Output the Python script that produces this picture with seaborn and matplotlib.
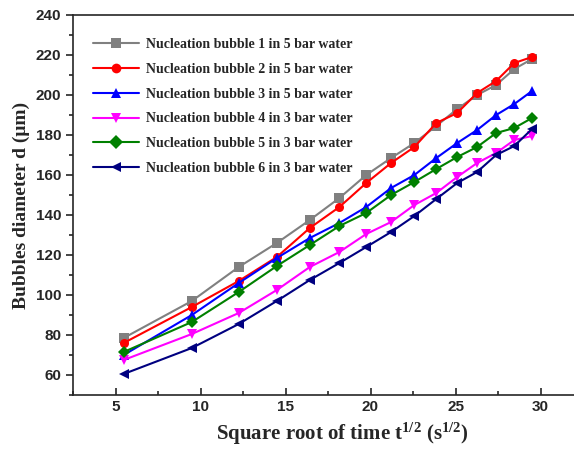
import matplotlib
matplotlib.use("Agg")
import matplotlib.pyplot as plt
import seaborn as sns
import pandas as pd
from matplotlib.ticker import MultipleLocator

sqrt_time = [5.48, 9.49, 12.25, 14.49, 16.43, 18.17, 19.75, 21.21, 22.58, 23.87, 25.10, 26.27, 27.39, 28.46, 29.50]

bubble1 = [78.5, 97, 114, 126, 137.5, 148.5, 160, 168.5, 176, 184.5, 193, 200, 205, 213, 218]
bubble2 = [76, 94, 107, 119, 133.5, 144, 156, 166, 174, 186, 191, 201, 207, 216, 219]
bubble3 = [70, 90, 106, 118.5, 128.5, 136, 144, 153.5, 160, 168.5, 176, 182.5, 190, 195.5, 202]
bubble4 = [67.5, 80.5, 91, 102.5, 114, 121.5, 130.5, 136.5, 145, 151, 159, 166, 171, 177.5, 179.5]
bubble5 = [71.5, 86.5, 101.5, 114.5, 125, 134.5, 141, 150, 156.5, 163, 169, 174, 181, 183.5, 188.5]
bubble6 = [60.5, 73.5, 85.5, 97, 107.5, 116, 124, 131.5, 139.5, 148, 156, 161.5, 170, 174.5, 183]

labels = ["Nucleation bubble 1 in 5 bar water",
          "Nucleation bubble 2 in 5 bar water",
          "Nucleation bubble 3 in 5 bar water",
          "Nucleation bubble 4 in 3 bar water",
          "Nucleation bubble 5 in 3 bar water",
          "Nucleation bubble 6 in 3 bar water"]
series = [bubble1, bubble2, bubble3, bubble4, bubble5, bubble6]
colors = ["#808080", "#FF0000", "#0000FF", "#FF00FF", "#008000", "#000080"]
markers = ["s", "o", "^", "v", "D", "<"]

rows = []
for lab, vals in zip(labels, series):
    for x, y in zip(sqrt_time, vals):
        rows.append({"x": x, "y": y, "series": lab})
df = pd.DataFrame(rows)

sns.set_style("ticks")
plt.rcParams["mathtext.fontset"] = "custom"
plt.rcParams["mathtext.rm"] = "Liberation Serif:bold"
plt.rcParams["mathtext.bf"] = "Liberation Serif:bold"
plt.rcParams["mathtext.it"] = "Liberation Serif:bold"

fig = plt.figure(figsize=(5.74, 4.5), dpi=100)
ax = fig.add_axes([73/574, 55/450, 510/574, 380/450])

sns.lineplot(data=df, x="x", y="y", hue="series", style="series",
             hue_order=labels, style_order=labels,
             palette=dict(zip(labels, colors)),
             markers=dict(zip(labels, markers)), dashes=False,
             markersize=6.5, markeredgewidth=0, linewidth=1.5, ax=ax)

ax.set_xlim(2.5, 32.5)
ax.set_ylim(50, 240)
ax.xaxis.set_major_locator(MultipleLocator(5))
ax.xaxis.set_minor_locator(MultipleLocator(2.5))
ax.yaxis.set_major_locator(MultipleLocator(20))
ax.yaxis.set_minor_locator(MultipleLocator(10))
ax.tick_params(axis="x", which="major", direction="in", length=5, width=1.2)
ax.tick_params(axis="x", which="minor", direction="in", length=3, width=1.2)
ax.tick_params(axis="y", which="major", direction="out", length=5, width=1.2)
ax.tick_params(axis="y", which="minor", direction="out", length=3, width=1.2)
for s in ax.spines.values():
    s.set_linewidth(1.2)
    s.set_visible(True)

for t in ax.get_xticklabels() + ax.get_yticklabels():
    t.set_fontfamily("Liberation Sans")
    t.set_fontweight("bold")
    t.set_fontsize(11)

ax.set_xlabel(r"Square root of time t$^{\mathbf{1/2}}$ (s$^{\mathbf{1/2}}$)",
              fontfamily="Liberation Serif", fontweight="bold", fontsize=15)
ax.xaxis.set_label_coords(0.527, -0.068)
ax.set_ylabel("Bubbles diameter d (\u03bcm)", fontfamily="Liberation Serif",
              fontweight="bold", fontsize=14, labelpad=4)

leg = ax.legend(loc="upper left", bbox_to_anchor=(0.02, 0.965), frameon=False,
                prop={"family": "Liberation Serif", "weight": "bold", "size": 10},
                handlelength=3.3, handletextpad=0.5, labelspacing=0.85, borderaxespad=0.3,
                markerscale=1.0)
for h in leg.legend_handles:
    h.set_markersize(7)

fig.savefig("out.png", dpi=100)
